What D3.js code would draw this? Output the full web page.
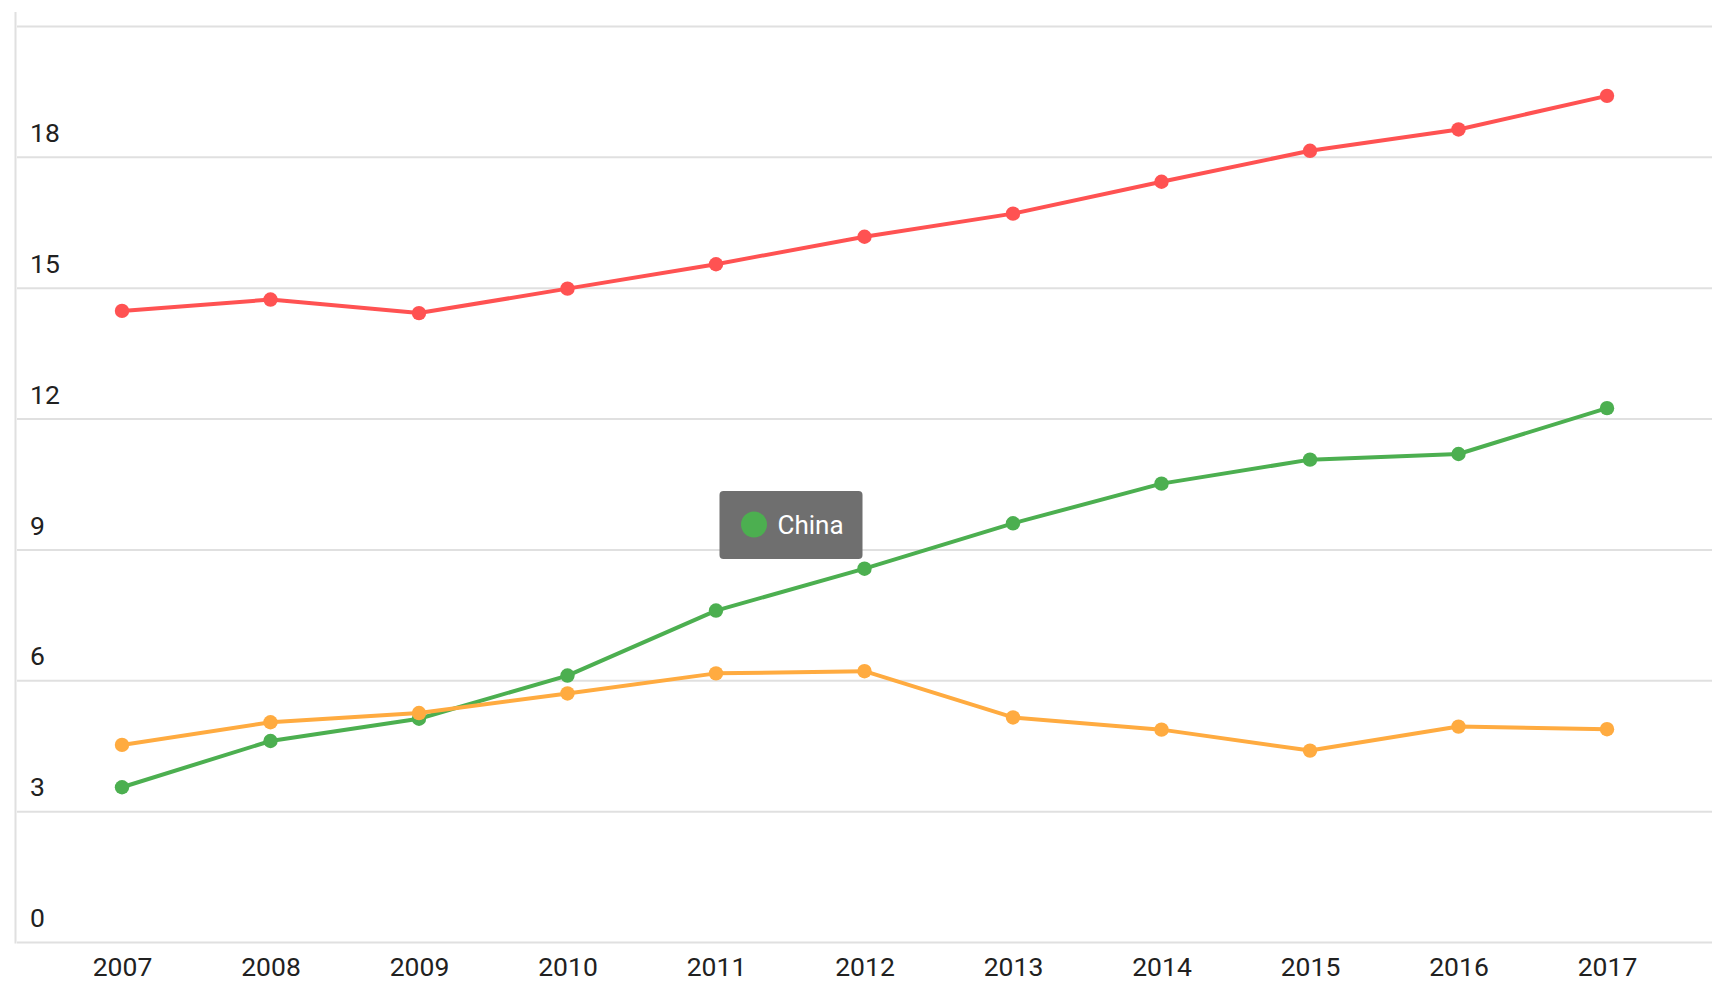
<!DOCTYPE html>
<html>
<head>
<meta charset="utf-8">
<script src="https://cdn.jsdelivr.net/npm/d3@7"></script>
<style>
  html, body { margin: 0; padding: 0; background: #fff; }
  svg { display: block; font-family: Roboto, "Noto Sans", sans-serif; }
</style>
</head>
<body>
<svg id="chart" width="1729" height="1003"></svg>
<script>
const years = ["2007","2008","2009","2010","2011","2012","2013","2014","2015","2016","2017"];
const redValues    = [14.48, 14.74, 14.43, 14.99, 15.55, 16.18, 16.71, 17.44, 18.15, 18.64, 19.41];
const greenValues  = [3.56, 4.62, 5.13, 6.12, 7.61, 8.57, 9.61, 10.52, 11.07, 11.2, 12.25];
const orangeValues = [4.53, 5.05, 5.26, 5.71, 6.17, 6.22, 5.16, 4.88, 4.40, 4.95, 4.89];
const seriesNames  = ["Red", "China", "Orange"];
const yTickLabels  = [0, 3, 6, 9, 12, 15, 18];
const yGridValues  = [0, 3, 6, 9, 12, 15, 18, 21];
const tooltipSeries = "China";

const colors = { Red: "#FF5252", China: "#4CAF50", Orange: "#FFAB40" };
const series = [
  { name: seriesNames[0], values: redValues },
  { name: seriesNames[1], values: greenValues },
  { name: seriesNames[2], values: orangeValues }
];

const svg = d3.select("#chart");
const plotLeft = 17, plotRight = 1712, plotTop = 26.5, plotBottom = 942.5;

const x = d3.scalePoint().domain(years).range([plotLeft, plotRight]).padding(0.707);
const y = d3.scaleLinear().domain([0, 21]).range([plotBottom, plotTop]);

// gridlines
svg.append("g").selectAll("line").data(yGridValues).join("line")
  .attr("x1", plotLeft).attr("x2", plotRight)
  .attr("y1", d => y(d)).attr("y2", d => y(d))
  .attr("stroke", "#e0e0e0").attr("stroke-width", 2);

// left axis line
svg.append("line")
  .attr("x1", 15.5).attr("x2", 15.5).attr("y1", 12).attr("y2", plotBottom + 1)
  .attr("stroke", "#e0e0e0").attr("stroke-width", 2);

// y labels (above gridlines)
svg.append("g").selectAll("text").data(yTickLabels).join("text")
  .attr("x", 30).attr("y", d => y(d) - 15.3)
  .attr("fill", "#212121").attr("font-size", 26.5)
  .text(d => d);

// x axis via d3 axis, then restyle
const xAxis = svg.append("g").attr("transform", `translate(0,${plotBottom})`)
  .call(d3.axisBottom(x).tickSize(0).tickPadding(15));
xAxis.select(".domain").remove();
xAxis.selectAll("text").attr("fill", "#212121").attr("font-size", 26.5)
  .attr("font-family", "Roboto, sans-serif");

const line = d3.line().x((d, i) => x(years[i])).y(d => y(d));

const g = svg.append("g");
series.forEach(s => {
  g.append("path").datum(s.values)
    .attr("d", line).attr("fill", "none")
    .attr("stroke", colors[s.name]).attr("stroke-width", 4)
    .attr("stroke-linejoin", "round");
});
series.forEach(s => {
  g.append("g").selectAll("circle").data(s.values).join("circle")
    .attr("cx", (d, i) => x(years[i])).attr("cy", d => y(d))
    .attr("r", 7.2).attr("fill", colors[s.name]);
});

// tooltip
const tip = svg.append("g").attr("transform", "translate(719.5,491)");
tip.append("rect").attr("width", 143).attr("height", 68).attr("rx", 4)
  .attr("fill", "#6f6f6f");
tip.append("circle").attr("cx", 34.5).attr("cy", 33.5).attr("r", 13)
  .attr("fill", colors[tooltipSeries]);
tip.append("text").attr("x", 58).attr("y", 43).attr("fill", "#ffffff")
  .attr("font-size", 26).text(tooltipSeries);
</script>
</body>
</html>
